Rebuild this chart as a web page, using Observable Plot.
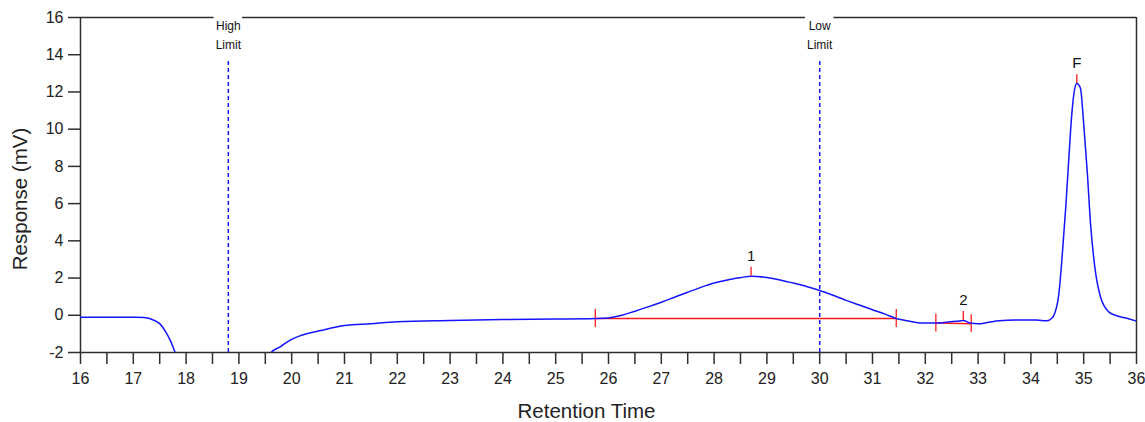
<!DOCTYPE html>
<html>
<head>
<meta charset="utf-8">
<script src="https://cdn.jsdelivr.net/npm/d3@7"></script>
<script src="https://cdn.jsdelivr.net/npm/@observablehq/plot@0.6"></script>
<style>
  html, body { margin: 0; padding: 0; background: #fff; }
  #chart svg { display: block; }
</style>
</head>
<body>
<div id="chart"></div>
<script>
// ---- Chromatogram trace (retention time in min, response in mV) ----
const traceTime = [16, 16.5, 17, 17.2, 17.4, 17.5, 17.6, 17.7, 17.78, 17.85, 18.0, 18.5, 19.0, 19.5, 19.6, 19.79, 19.98, 20.17, 20.55, 21, 21.5, 22, 23, 24, 25, 25.75, 26, 26.25, 26.5, 26.75, 27, 27.25, 27.5, 27.75, 28, 28.25, 28.5, 28.7, 29, 29.25, 29.5, 29.75, 30, 30.25, 30.5, 30.75, 31, 31.25, 31.45, 31.6, 31.8, 32.0, 32.2, 32.4, 32.6, 32.72, 32.85, 33.0, 33.2, 33.4, 33.7, 34.1, 34.3, 34.4, 34.45, 34.53, 34.59, 34.66, 34.72, 34.77, 34.83, 34.87, 34.9, 34.94, 35.0, 35.07, 35.13, 35.21, 35.32, 35.48, 35.6, 35.8, 36];
const traceResp = [-0.1, -0.1, -0.11, -0.12, -0.28, -0.45, -0.82, -1.35, -1.9, -2.5, -3.5, -5, -5, -3, -2.04, -1.68, -1.32, -1.09, -0.82, -0.55, -0.45, -0.35, -0.28, -0.23, -0.2, -0.17, -0.14, 0.0, 0.22, 0.45, 0.7, 0.97, 1.24, 1.5, 1.73, 1.9, 2.02, 2.1, 2.03, 1.9, 1.73, 1.55, 1.33, 1.08, 0.8, 0.55, 0.3, 0.05, -0.17, -0.27, -0.37, -0.42, -0.42, -0.38, -0.32, -0.28, -0.42, -0.46, -0.38, -0.3, -0.26, -0.26, -0.3, -0.15, 0.1, 1.15, 3.1, 5.8, 8.5, 10.65, 12.18, 12.45, 12.4, 12.18, 10.3, 7.6, 4.9, 2.6, 0.97, 0.17, 0.0, -0.15, -0.32];

// ---- Integrated peaks ----
const peakNames = ["1", "2", "F"];
const peakApexTime = [28.7, 32.72, 34.87];
const peakApexResp = [2.1, -0.28, 12.45];
const peakHasBaseline = [true, true, false];
const peakStartTime = [25.75, 32.2, null];
const peakStartResp = [-0.17, -0.42, null];
const peakEndTime = [31.45, 32.87, null];
const peakEndResp = [-0.17, -0.45, null];

// ---- Limits ----
const limitTimes = [18.8, 30.0];
const limitLabels = ["High\nLimit", "Low\nLimit"];
const limitTop = 13.8;

// ---- Axes ----
const xDomain = [16, 36];
const yDomain = [-2, 16];
const xTicks = d3.range(16, 36.001, 0.5);
const yTicks = d3.range(-2, 16.001, 2);

// Build tables
const trace = traceTime.map((t, i) => ({t, r: traceResp[i]}));
const peaks = peakNames.map((n, i) => ({name: n, t: peakApexTime[i], r: peakApexResp[i]}));
const baselines = peakNames.map((n, i) => ({name: n, has: peakHasBaseline[i], t1: peakStartTime[i], r1: peakStartResp[i], t2: peakEndTime[i], r2: peakEndResp[i]})).filter(d => d.has);
const baseEnds = baselines.flatMap(d => [{t: d.t1, r: d.r1}, {t: d.t2, r: d.r2}]);
const limits = limitTimes.map((t, i) => ({t, label: limitLabels[i]}));

// Top frame segments with gaps around limit labels
const gap = 0.27;
const topSegs = [];
let start = xDomain[0];
for (const t of limitTimes) { topSegs.push({x1: start, x2: t - gap}); start = t + gap; }
topSegs.push({x1: start, x2: xDomain[1]});

const frameColor = "#2e2e2e";
const blue = "#1414ff";
const red = "#ff1a1a";
const tickHalf = 0.48; // half-height of red marker ticks in mV

const chart = Plot.plot({
  width: 1145,
  height: 422,
  marginLeft: 80,
  marginRight: 9,
  marginTop: 17,
  marginBottom: 70,
  style: {fontFamily: "'Liberation Sans', Arial, sans-serif", background: "#fff", color: "#222"},
  x: {domain: xDomain},
  y: {domain: yDomain},
  marks: [
    Plot.axisX({ticks: xTicks, tickSize: 12, tickPadding: 8, fontSize: 16, stroke: frameColor, strokeWidth: 1.5,
      tickFormat: d => Number.isInteger(d) ? String(d) : "", label: null}),
    Plot.axisY({ticks: yTicks, tickSize: 12, tickPadding: 5, fontSize: 16, stroke: frameColor, strokeWidth: 1.5,
      tickFormat: d => String(d), label: null}),
    // frame
    Plot.ruleY([yDomain[0]], {stroke: frameColor, strokeWidth: 1.5}),
    Plot.ruleX([xDomain[0], xDomain[1]], {stroke: frameColor, strokeWidth: 1.5}),
    Plot.ruleY(topSegs, {y: yDomain[1], x1: "x1", x2: "x2", stroke: frameColor, strokeWidth: 1.5}),
    // limits
    Plot.ruleX(limits, {x: "t", y1: yDomain[0], y2: limitTop, stroke: blue, strokeWidth: 1.5, strokeDasharray: "4,3"}),
    Plot.text(limits, {x: "t", y: yDomain[1], text: "label", lineAnchor: "top", dy: -1, fontSize: 12, lineHeight: 1.6, fill: "#111"}),
    // baselines
    Plot.link(baselines, {x1: "t1", y1: "r1", x2: "t2", y2: "r2", stroke: red, strokeWidth: 1.5}),
    Plot.ruleX(baseEnds, {x: "t", y1: d => d.r - tickHalf, y2: d => d.r + tickHalf, stroke: red, strokeWidth: 1.3}),
    // trace
    Plot.line(trace, {x: "t", y: "r", stroke: blue, strokeWidth: 1.5, curve: "monotone-x", clip: true}),
    // apex markers
    Plot.ruleX(peaks, {x: "t", y1: "r", y2: d => d.r + tickHalf, stroke: red, strokeWidth: 1.3}),
    Plot.text(peaks, {x: "t", y: "r", text: "name", dy: -20, fontSize: 15, fill: "#111"}),
    // axis titles
    Plot.text(["Retention Time"], {frameAnchor: "bottom", dy: 65, dx: -22, fontSize: 20.5, fill: "#222"}),
    Plot.text(["Response (mV)"], {frameAnchor: "left", textAnchor: "middle", rotate: -90, dx: -60, dy: 14, fontSize: 20.5, fill: "#222"})
  ]
});
document.getElementById("chart").appendChild(chart);
</script>
</body>
</html>
